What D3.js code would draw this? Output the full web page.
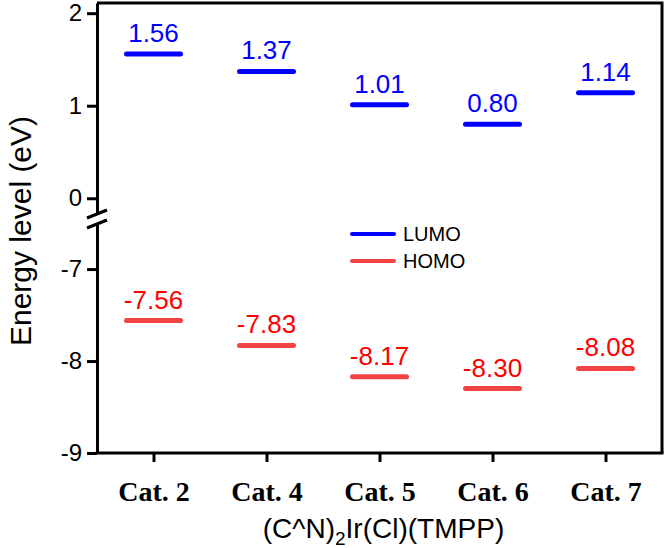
<!DOCTYPE html>
<html><head><meta charset="utf-8">
<script src="https://cdn.jsdelivr.net/npm/d3@7"></script>
<style>body{margin:0;background:#fff}</style>
</head><body>
<svg id="c" width="667" height="548"></svg>
<script>
const categories = ["Cat. 2","Cat. 4","Cat. 5","Cat. 6","Cat. 7"];
const lumo = [1.56, 1.37, 1.01, 0.80, 1.14];
const homo = [-7.56, -7.83, -8.17, -8.30, -8.08];
const topTicks = [0, 1, 2];
const bottomTicks = [-9, -8, -7];
const seriesNames = ["LUMO", "HOMO"];

const svg = d3.select("#c");
const L = 97, R = 662, T = 3, B = 453;
const blue = "#0000ff", red = "#f24444", redText = "#ff0000";

const x = d3.scalePoint().domain(categories).range([L, R]).padding(0.5);
const yTop = d3.scaleLinear().domain([-0.17, 2.11]).range([214, T]);
const yBot = d3.scaleLinear().domain([-9, -6.51]).range([B, 224]);

const font = "Arial, 'Liberation Sans', sans-serif";

// frame top/right
svg.append("path").attr("d", `M${L},${T}H${R}V${B}`).attr("fill","none").attr("stroke","#000").attr("stroke-width",3);

function styleAxis(g){
  g.selectAll("path.domain").attr("stroke","#000").attr("stroke-width",3);
  g.selectAll(".tick line").attr("stroke","#000").attr("stroke-width",3);
  g.selectAll(".tick text").attr("font-family",font).attr("font-size",24).attr("fill","#000");
}
const gTop = svg.append("g").attr("transform",`translate(${L},0)`)
  .call(d3.axisLeft(yTop).tickValues(topTicks).tickSize(10).tickSizeOuter(0).tickPadding(5).tickFormat(d3.format("d")));
styleAxis(gTop);
const gBot = svg.append("g").attr("transform",`translate(${L},0)`)
  .call(d3.axisLeft(yBot).tickValues(bottomTicks).tickSize(10).tickSizeOuter(0).tickPadding(5).tickFormat(d=>d3.format("d")(d).replace("−","-")));
styleAxis(gBot);

// break marks
[214, 224].forEach(cy=>{
  svg.append("line").attr("x1",L-10).attr("y1",cy+4).attr("x2",L+10).attr("y2",cy-4)
    .attr("stroke","#000").attr("stroke-width",3);
});

const gx = svg.append("g").attr("transform",`translate(0,${B})`)
  .call(d3.axisBottom(x).tickSize(9).tickSizeOuter(0).tickPadding(19));
gx.selectAll("path.domain").attr("stroke","#000").attr("stroke-width",3)
  .attr("d",`M${L-1.5},0H${R+1.5}`);
gx.selectAll(".tick line").attr("stroke","#000").attr("stroke-width",3);
gx.selectAll(".tick text").attr("font-family","'Liberation Serif','Times New Roman',serif")
  .attr("font-weight","bold").attr("font-size",28).attr("fill","#000");

const half = 27;
function levels(vals, scale, col, tcol){
  const g = svg.append("g");
  g.selectAll("line").data(vals).join("line")
    .attr("x1",(d,i)=>x(categories[i])-half).attr("x2",(d,i)=>x(categories[i])+half)
    .attr("y1",d=>scale(d)).attr("y2",d=>scale(d))
    .attr("stroke",col).attr("stroke-width",5).attr("stroke-linecap","round");
  g.selectAll("text").data(vals).join("text")
    .attr("x",(d,i)=>x(categories[i])).attr("y",d=>scale(d)-12)
    .attr("text-anchor","middle").attr("font-family",font).attr("font-size",26).attr("fill",tcol)
    .text(d=>d.toFixed(2));
}
levels(lumo, yTop, blue, blue);
levels(homo, yBot, red, redText);

// legend
const leg = svg.append("g");
[[seriesNames[0], blue, 234],[seriesNames[1], red, 261]].forEach(([n,c,yy])=>{
  leg.append("line").attr("x1",352).attr("x2",394).attr("y1",yy).attr("y2",yy)
    .attr("stroke",c).attr("stroke-width",4).attr("stroke-linecap","round");
  leg.append("text").attr("x",403).attr("y",yy+7).attr("font-family",font).attr("font-size",20)
    .attr("fill","#000").text(n);
});

// axis titles
svg.append("text").attr("transform",`translate(31,231) rotate(-90)`)
  .attr("text-anchor","middle").attr("font-family",font).attr("font-size",30).attr("fill","#000")
  .text("Energy level (eV)");
const xt = svg.append("text").attr("x",(L+R)/2 + 4).attr("y",538).attr("text-anchor","middle")
  .attr("font-family",font).attr("font-size",28).attr("fill","#000");
xt.append("tspan").text("(C^N)");
xt.append("tspan").attr("font-size",19).attr("dy",7).text("2");
xt.append("tspan").attr("dy",-7).text("Ir(Cl)(TMPP)");
</script>
</body></html>
